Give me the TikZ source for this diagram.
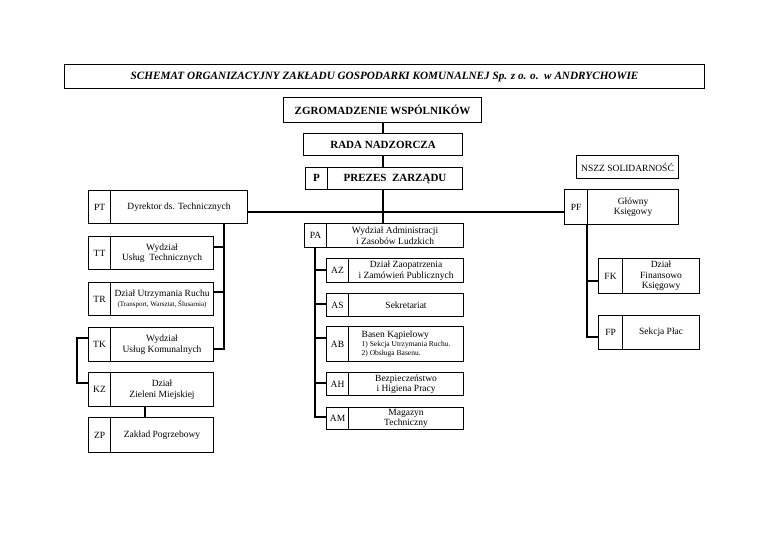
\documentclass[tikz,border=0pt]{standalone}
\usepackage{fontspec}
\setmainfont{Liberation Serif}
\begin{document}
\begin{tikzpicture}[x=1pt,y=-1pt,
  cell/.style={draw,line width=1.1pt,inner sep=0pt,align=center,anchor=north west,font=\fontsize{9.5}{10.5}\selectfont},
  hdr/.style={cell,font=\fontsize{11}{12}\selectfont\bfseries},
  con/.style={line width=1.05pt}]
\useasboundingbox (0,0) rectangle (768,543);
% title
\node[cell,minimum width=640pt,minimum height=24pt,font=\fontsize{11.2}{12}\selectfont\bfseries\itshape] (title) at (64,64) {SCHEMAT ORGANIZACYJNY ZAKŁADU GOSPODARKI KOMUNALNEJ Sp. z o. o.\ \ w ANDRYCHOWIE};
% top chain
\node[hdr,minimum width=198pt,minimum height=25pt] (zg) at (283,97) {ZGROMADZENIE WSPÓLNIKÓW};
\node[hdr,minimum width=159pt,minimum height=22pt] (rada) at (303,133) {RADA NADZORCZA};
\node[hdr,minimum width=22pt,minimum height=22pt] (Pc) at (305,167) {P\vphantom{Ą}};
\node[hdr,minimum width=135pt,minimum height=22pt] (Pt) at (327,167) {PREZES\ \ ZARZĄDU};
\node[cell,minimum width=102pt,minimum height=23pt] (nszz) at (576,155) {NSZZ SOLIDARNOŚĆ};
% left column
\node[cell,minimum width=22pt,minimum height=33pt] (PTc) at (88,190) {PT};
\node[cell,minimum width=137pt,minimum height=33pt] (PTt) at (110,190) {Dyrektor ds. Technicznych};
\node[cell,minimum width=22pt,minimum height=33pt] (TTc) at (88,236) {TT};
\node[cell,minimum width=103pt,minimum height=33pt] (TTt) at (110,236) {Wydział\\Usług\ \ Technicznych};
\node[cell,minimum width=22pt,minimum height=33pt] (TRc) at (88,282) {TR};
\node[cell,minimum width=103pt,minimum height=33pt] (TRt) at (110,282) {Dział Utrzymania Ruchu\\{\fontsize{7}{8}\selectfont (Transport, Warsztat, Ślusarnia)}};
\node[cell,minimum width=22pt,minimum height=34pt] (TKc) at (88,327) {TK};
\node[cell,minimum width=103pt,minimum height=34pt] (TKt) at (110,327) {Wydział\\Usług Komunalnych};
\node[cell,minimum width=22pt,minimum height=34pt] (KZc) at (88,372) {KZ};
\node[cell,minimum width=103pt,minimum height=34pt] (KZt) at (110,372) {Dział\\Zieleni Miejskiej};
\node[cell,minimum width=22pt,minimum height=35pt] (ZPc) at (88,417) {ZP};
\node[cell,minimum width=103pt,minimum height=35pt] (ZPt) at (110,417) {Zakład Pogrzebowy};
% middle column
\node[cell,minimum width=22pt,minimum height=24pt] (PAc) at (304,223) {PA};
\node[cell,minimum width=137pt,minimum height=24pt] (PAt) at (326,223) {Wydział Administracji\\i Zasobów Ludzkich};
\node[cell,minimum width=22pt,minimum height=24pt] (AZc) at (326,258) {AZ};
\node[cell,minimum width=115pt,minimum height=24pt] (AZt) at (348,258) {Dział Zaopatrzenia\\i Zamówień Publicznych};
\node[cell,minimum width=22pt,minimum height=23pt] (ASc) at (326,293) {AS};
\node[cell,minimum width=115pt,minimum height=23pt] (ASt) at (348,293) {Sekretariat};
\node[cell,minimum width=22pt,minimum height=35pt] (ABc) at (326,326) {AB};
\node[cell,minimum width=115pt,minimum height=35pt,align=left] (ABt) at (348,326) {Basen Kąpielowy\\[-1pt]{\fontsize{7.5}{8}\selectfont 1) Sekcja Utrzymania Ruchu.}\\[-1.5pt]{\fontsize{7.5}{8}\selectfont 2) Obsługa Basenu.}};
\node[cell,minimum width=22pt,minimum height=23pt] (AHc) at (326,372) {AH};
\node[cell,minimum width=115pt,minimum height=23pt] (AHt) at (348,372) {Bezpieczeństwo\\i Higiena Pracy};
\node[cell,minimum width=22pt,minimum height=22pt] (AMc) at (326,407) {AM};
\node[cell,minimum width=115pt,minimum height=22pt] (AMt) at (348,407) {Magazyn\\Techniczny};
% right column
\node[cell,minimum width=23pt,minimum height=35pt] (PFc) at (564,189) {PF};
\node[cell,minimum width=91pt,minimum height=35pt] (PFt) at (587,189) {Główny\\Księgowy};
\node[cell,minimum width=24pt,minimum height=35pt] (FKc) at (598,258) {FK};
\node[cell,minimum width=77pt,minimum height=35pt] (FKt) at (622,258) {Dział\\Finansowo\\Księgowy};
\node[cell,minimum width=24pt,minimum height=34pt] (FPc) at (598,315) {FP};
\node[cell,minimum width=77pt,minimum height=34pt] (FPt) at (622,315) {Sekcja Płac};
% coordinates
\coordinate (hl) at (383,212);
\coordinate (vl) at (224,0);
\coordinate (va) at (315,0);
\coordinate (vf) at (587,0);
\coordinate (br) at (77,0);
% connectors
\draw[con] (zg.south -| hl) -- (rada.north -| hl);
\draw[con] (rada.south -| hl) -- (Pt.north -| hl);
\draw[con] (Pt.south -| hl) -- (PAt.north -| hl);
\draw[con] (PTt.east |- hl) -- (PFc.west |- hl);
\draw[con] (PTt.south -| vl) -- (vl |- 0,349) -- (TKt.east |- 0,349);
\draw[con] (vl |- 0,247) -- (TTt.east |- 0,247);
\draw[con] (vl |- 0,292) -- (TRt.east |- 0,292);
\draw[con] (TKc.west |- 0,338) -- (br |- 0,338) -- (br |- 0,383) -- (KZc.west |- 0,383);
\draw[con] (KZt.south -| 145,0) -- (ZPt.north -| 145,0);
\draw[con] (PAc.south -| va) -- (va |- 0,417) -- (AMc.west |- 0,417);
\draw[con] (va |- 0,270) -- (AZc.west |- 0,270);
\draw[con] (va |- 0,304) -- (ASc.west |- 0,304);
\draw[con] (va |- 0,338) -- (ABc.west |- 0,338);
\draw[con] (va |- 0,383) -- (AHc.west |- 0,383);
\draw[con] (PFc.south -| vf) -- (vf |- 0,337) -- (FPc.west |- 0,337);
\draw[con] (vf |- 0,281) -- (FKc.west |- 0,281);
\end{tikzpicture}
\end{document}
